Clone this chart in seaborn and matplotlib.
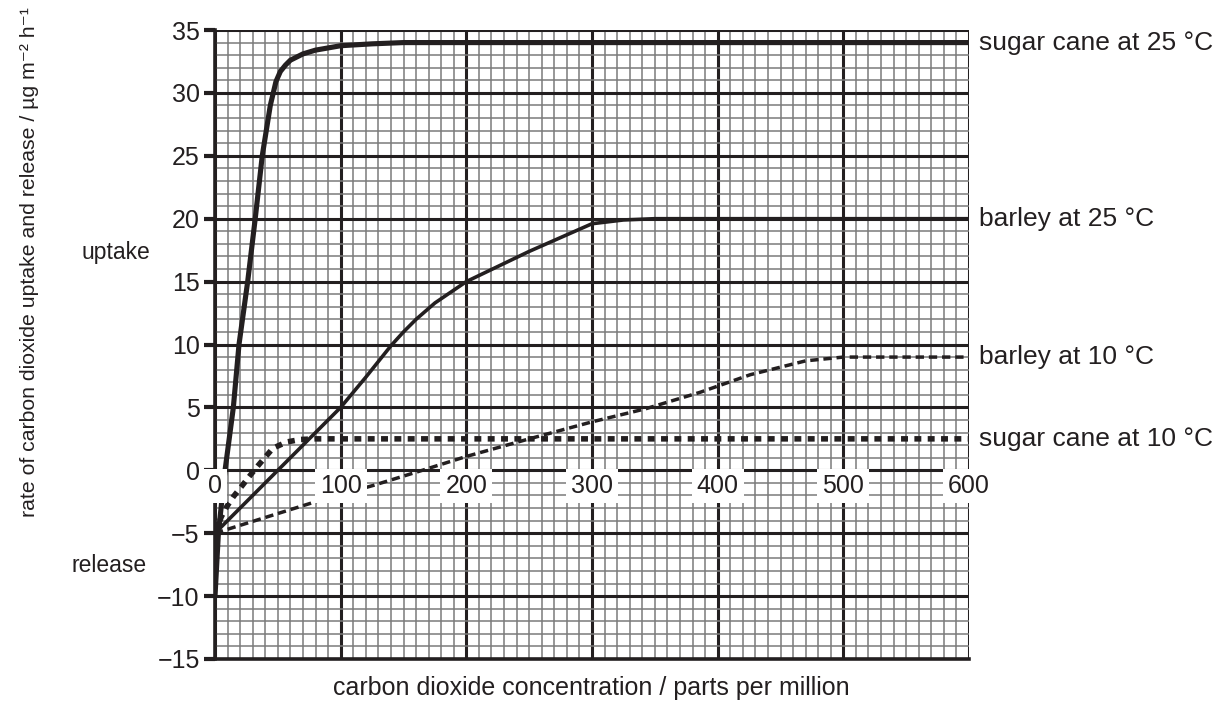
import pandas as pd
import seaborn as sns
import matplotlib.pyplot as plt
from matplotlib.ticker import MultipleLocator

# values
sugar25_x = [0, 2.7, 8, 14.6, 19.1, 26, 32, 37.6, 44, 48.5, 52, 56, 60, 70, 80, 100, 125, 150, 600]
sugar25_y = [-10, -5, 0, 5, 10, 15, 20, 25, 29, 30.9, 31.7, 32.2, 32.6, 33.1, 33.4, 33.75, 33.9, 34, 34]

barley25_x = [0, 50, 100, 120, 140, 150, 160, 175, 200, 250, 300, 325, 350, 600]
barley25_y = [-5, 0, 5, 7.4, 9.9, 11.0, 12.0, 13.3, 15, 17.4, 19.6, 19.9, 20, 20]

barley10_x = [0, 80, 126, 165, 200, 250, 300, 343, 386, 426, 470, 500, 600]
barley10_y = [-5, -2.5, -1.2, 0, 1.1, 2.5, 3.85, 4.9, 6.2, 7.6, 8.7, 9, 9]

sugar10_x = [0, 5, 9.3, 14.6, 21, 28, 34.5, 46, 57, 68, 80, 600]
sugar10_y = [-5, -3.7, -2.9, -2.1, -1.3, -0.4, 0.4, 1.75, 2.25, 2.45, 2.5, 2.5]

x_ticks = [0, 100, 200, 300, 400, 500, 600]
y_ticks = [-15, -10, -5, 0, 5, 10, 15, 20, 25, 30, 35]

series = [
    ("sugar cane at 25 °C", sugar25_x, sugar25_y),
    ("barley at 25 °C", barley25_x, barley25_y),
    ("barley at 10 °C", barley10_x, barley10_y),
    ("sugar cane at 10 °C", sugar10_x, sugar10_y),
]

INK = "#231f20"

sns.set_theme(style="white")
plt.rcParams["font.family"] = ["Liberation Sans", "DejaVu Sans"]
plt.rcParams["text.color"] = INK

fig = plt.figure(figsize=(12.31, 7.06), dpi=100)
ax = fig.add_axes([215 / 1231, 1 - 659 / 706, (969 - 215) / 1231, (659 - 30) / 706])

styles = {
    "sugar cane at 25 °C": dict(lw=3.7, ls="-"),
    "barley at 25 °C": dict(lw=2.6, ls="-"),
    "barley at 10 °C": dict(lw=2.5, ls=(0, (2.4, 1.4))),
    "sugar cane at 10 °C": dict(lw=4.0, ls=(0, (1.25, 1.15))),
}

for name, xs, ys in series:
    df = pd.DataFrame({"x": xs, "y": ys})
    st = styles[name]
    sns.lineplot(data=df, x="x", y="y", ax=ax, color=INK, lw=st["lw"],
                 linestyle=st["ls"], sort=False, estimator=None, zorder=5,
                 dash_capstyle="butt", solid_capstyle="round")
    ax.text(608, ys[-1], name, ha="left", va="center", fontsize=19,
            color=INK, clip_on=False)

ax.set_xlim(0, 600)
ax.set_ylim(-15, 35)
ax.set_xticks(x_ticks)
ax.set_yticks(y_ticks)
ax.xaxis.set_minor_locator(MultipleLocator(10))
ax.yaxis.set_minor_locator(MultipleLocator(1))
ax.grid(which="minor", color="#7a7a7a", lw=1.1, zorder=1)
ax.grid(which="major", color=INK, lw=2.2, zorder=2)
ax.set_axisbelow(True)

ax.tick_params(axis="x", which="both", length=0, labelbottom=False)
ax.tick_params(axis="y", which="major", length=8, width=3, color=INK,
               labelsize=18, labelcolor=INK, pad=3, left=True)
ax.tick_params(axis="y", which="minor", length=0)
ax.set_xlabel("")
ax.set_ylabel("")

for side in ["top", "right"]:
    ax.spines[side].set_visible(False)
for side in ["left", "bottom"]:
    ax.spines[side].set_color(INK)
    ax.spines[side].set_linewidth(2.6)
    ax.spines[side].set_zorder(6)

# x tick labels sit on the zero line, boxed in white
for xv in x_ticks:
    ax.text(xv, -1.25, str(xv), ha="center", va="center", fontsize=18,
            color=INK, zorder=10, clip_on=False,
            bbox=dict(boxstyle="square,pad=0.2", fc="white", ec="none"))

fig.text(116 / 1231, 1 - 253 / 706, "uptake", ha="center", va="center",
         fontsize=16.5, color=INK)
fig.text(109 / 1231, 1 - 565 / 706, "release", ha="center", va="center",
         fontsize=16.5, color=INK)
fig.text(30 / 1231, 1 - 262 / 706,
         "rate of carbon dioxide uptake and release / µg m⁻² h⁻¹",
         rotation=90, ha="center", va="center", fontsize=15.3, color=INK)
fig.text(591 / 1231, 1 - 688 / 706,
         "carbon dioxide concentration / parts per million",
         ha="center", va="center", fontsize=18, color=INK)

fig.savefig("out.png", dpi=100)
